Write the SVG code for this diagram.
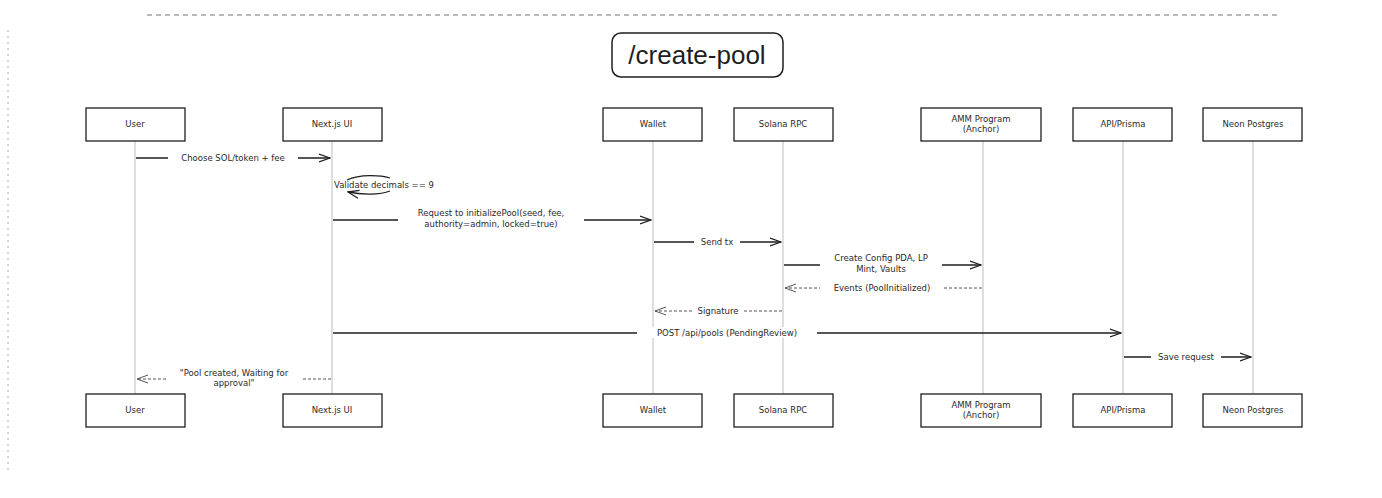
<svg xmlns="http://www.w3.org/2000/svg" width="1382" height="498" viewBox="0 0 1382 498">
<style>
.box{fill:#fff;stroke:#1e1e1e;stroke-width:1.3}
.life{stroke:#c8c8c8;stroke-width:1.2;fill:none}
.lbl{font-family:"DejaVu Sans",sans-serif;font-size:8.5px;fill:#2a2a2a;text-anchor:middle}
.msg{stroke:#1e1e1e;stroke-width:1.3;fill:none}
.ret{stroke:#555;stroke-width:1;stroke-dasharray:3 2;fill:none}
.title{font-family:"Liberation Sans",sans-serif;font-size:26px;fill:#1e1e1e;text-anchor:middle}
.bg{fill:#fff}
</style>
<defs>
<marker id="ah" markerWidth="12" markerHeight="10" refX="11" refY="5" orient="auto" markerUnits="userSpaceOnUse">
<path d="M0,1 L11,5 L0,9" fill="none" stroke="#1e1e1e" stroke-width="1.3"/>
</marker>
<marker id="ahd" markerWidth="12" markerHeight="10" refX="11" refY="5" orient="auto" markerUnits="userSpaceOnUse">
<path d="M0,1 L11,5 L0,9" fill="none" stroke="#555" stroke-width="1"/>
</marker>
</defs>
<rect x="0" y="0" width="1382" height="498" fill="#fff"/>
<line x1="147" y1="15" x2="1278" y2="15" stroke="#777" stroke-width="1" stroke-dasharray="5 4"/>
<line x1="8" y1="30" x2="8" y2="470" stroke="#aaa" stroke-width="1" stroke-dasharray="2 4"/>

<g id="title">
<rect x="612" y="33" width="171" height="44" rx="9" fill="#fff" stroke="#1e1e1e" stroke-width="1.5"/>
<text class="title" x="697" y="64">/create-pool</text>
</g>

<g id="lifelines">
<line class="life" x1="135" y1="141" x2="135" y2="394"/>
<line class="life" x1="332" y1="141" x2="332" y2="394"/>
<line class="life" x1="653" y1="141" x2="653" y2="394"/>
<line class="life" x1="783" y1="141" x2="783" y2="394"/>
<line class="life" x1="983" y1="141" x2="983" y2="394"/>
<line class="life" x1="1123" y1="141" x2="1123" y2="394"/>
<line class="life" x1="1253" y1="141" x2="1253" y2="394"/>
</g>

<g id="user">
<rect class="box" x="86" y="108" width="99" height="33"/><text class="lbl" x="135" y="127">User</text>
<rect class="box" x="86" y="394" width="99" height="33"/><text class="lbl" x="135" y="413">User</text>
</g>
<g id="nextjs">
<rect class="box" x="283" y="108" width="99" height="33"/><text class="lbl" x="332" y="127">Next.js UI</text>
<rect class="box" x="283" y="394" width="99" height="33"/><text class="lbl" x="332" y="413">Next.js UI</text>
</g>
<g id="wallet">
<rect class="box" x="603" y="108" width="99" height="33"/><text class="lbl" x="653" y="127">Wallet</text>
<rect class="box" x="603" y="394" width="99" height="33"/><text class="lbl" x="653" y="413">Wallet</text>
</g>
<g id="solana">
<rect class="box" x="734" y="108" width="99" height="33"/><text class="lbl" x="783" y="127">Solana RPC</text>
<rect class="box" x="734" y="394" width="99" height="33"/><text class="lbl" x="783" y="413">Solana RPC</text>
</g>
<g id="amm">
<rect class="box" x="921" y="108" width="120" height="33"/><text class="lbl" x="981" y="122">AMM Program</text><text class="lbl" x="981" y="132">(Anchor)</text>
<rect class="box" x="921" y="394" width="120" height="33"/><text class="lbl" x="981" y="408">AMM Program</text><text class="lbl" x="981" y="418">(Anchor)</text>
</g>
<g id="api">
<rect class="box" x="1073" y="108" width="99" height="33"/><text class="lbl" x="1123" y="127">API/Prisma</text>
<rect class="box" x="1073" y="394" width="99" height="33"/><text class="lbl" x="1123" y="413">API/Prisma</text>
</g>
<g id="neon">
<rect class="box" x="1203" y="108" width="99" height="33"/><text class="lbl" x="1253" y="127">Neon Postgres</text>
<rect class="box" x="1203" y="394" width="99" height="33"/><text class="lbl" x="1253" y="413">Neon Postgres</text>
</g>

<g id="connectors">
<line class="msg" x1="136" y1="158" x2="330" y2="158" marker-end="url(#ah)"/>
<rect class="bg" x="168" y="152" width="130" height="11"/>
<text class="lbl" x="233" y="161">Choose SOL/token + fee</text>

<path class="msg" d="M347,180 C360,174 380,175 390,178" />
<path class="msg" d="M390,191 C380,195 362,195 348,192" marker-end="url(#ah)"/>
<text class="lbl" x="334" y="188" style="text-anchor:start">Validate decimals == 9</text>

<line class="msg" x1="333" y1="220" x2="651" y2="220" marker-end="url(#ah)"/>
<rect class="bg" x="398" y="208" width="186" height="23"/>
<text class="lbl" x="491" y="216">Request to initializePool(seed, fee,</text>
<text class="lbl" x="491" y="227">authority=admin, locked=true)</text>

<line class="msg" x1="654" y1="242" x2="781" y2="242" marker-end="url(#ah)"/>
<rect class="bg" x="694" y="236" width="46" height="11"/>
<text class="lbl" x="717" y="245">Send tx</text>

<line class="msg" x1="784" y1="265" x2="981" y2="265" marker-end="url(#ah)"/>
<rect class="bg" x="820" y="253" width="122" height="23"/>
<text class="lbl" x="881" y="261">Create Config PDA, LP</text>
<text class="lbl" x="881" y="272">Mint, Vaults</text>

<line class="ret" x1="982" y1="288" x2="785" y2="288" marker-end="url(#ahd)"/>
<rect class="bg" x="820" y="282" width="124" height="11"/>
<text class="lbl" x="882" y="291">Events (PoolInitialized)</text>

<line class="ret" x1="782" y1="311" x2="655" y2="311" marker-end="url(#ahd)"/>
<rect class="bg" x="692" y="305" width="52" height="11"/>
<text class="lbl" x="718" y="314">Signature</text>

<line class="msg" x1="333" y1="333" x2="1121" y2="333" marker-end="url(#ah)"/>
<rect class="bg" x="637" y="327" width="180" height="11"/>
<text class="lbl" x="727" y="336">POST /api/pools (PendingReview)</text>

<line class="msg" x1="1124" y1="357" x2="1251" y2="357" marker-end="url(#ah)"/>
<rect class="bg" x="1151" y="351" width="70" height="11"/>
<text class="lbl" x="1186" y="360">Save request</text>

<line class="ret" x1="331" y1="379" x2="137" y2="379" marker-end="url(#ahd)"/>
<rect class="bg" x="166" y="368" width="136" height="22"/>
<text class="lbl" x="234" y="376">"Pool created, Waiting for</text>
<text class="lbl" x="234" y="386">approval"</text>
</g>
</svg>
